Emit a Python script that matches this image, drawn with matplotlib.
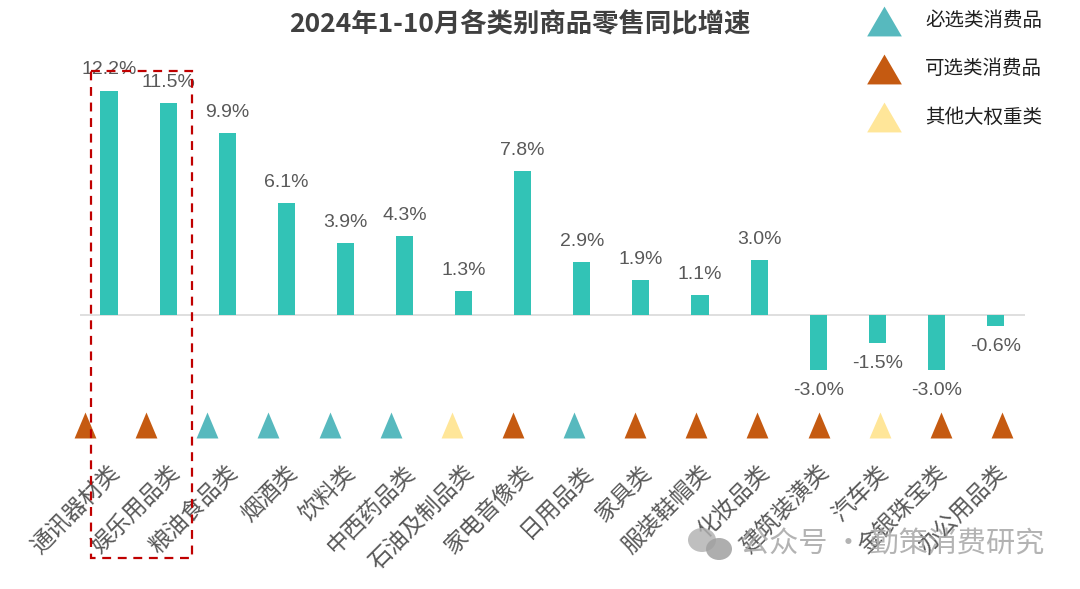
import matplotlib
matplotlib.use('Agg')
import matplotlib.pyplot as plt
from matplotlib.patches import Rectangle, Ellipse

plt.rcParams['font.family'] = ['Noto Sans CJK SC', 'DejaVu Sans']

# data
categories = ['通讯器材类', '娱乐用品类', '粮油食品类', '烟酒类', '饮料类', '中西药品类',
              '石油及制品类', '家电音像类', '日用品类', '家具类', '服装鞋帽类', '化妆品类',
              '建筑装潢类', '汽车类', '金银珠宝类', '办公用品类']
growth = [12.2, 11.5, 9.9, 6.1, 3.9, 4.3, 1.3, 7.8, 2.9, 1.9, 1.1, 3.0, -3.0, -1.5, -3.0, -0.6]
group = ['可选', '可选', '必选', '必选', '必选', '必选', '其他', '可选',
         '必选', '可选', '可选', '可选', '可选', '其他', '可选', '可选']
legend_names = ['必选类消费品', '可选类消费品', '其他大权重类']
legend_keys = ['必选', '可选', '其他']

group_colors = {'必选': '#57B9BE', '可选': '#C55A11', '其他': '#FFE699'}
bar_color = '#32C3B6'
text_gray = '#595959'

W, H = 1080, 589
fig = plt.figure(figsize=(W / 100, H / 100), dpi=100)

def px_box(x0, y0, x1, y1):
    # pixel box (top-left origin) -> figure fraction rect
    return [x0 / W, 1 - y1 / H, (x1 - x0) / W, (y1 - y0) / H]

# main bar axes
ax = fig.add_axes(px_box(79.5, 40, 1025, 400))
ax.set_xlim(-0.5, len(categories) - 0.5)
ax.set_ylim(-(400 - 315) / 18.4, (315 - 40) / 18.4)
ax.axis('off')

x = list(range(len(categories)))
ax.bar(x, growth, width=0.29, color=bar_color, zorder=2)
ax.axhline(0, color='#D9D9D9', lw=1.2, zorder=1)

for i, v in enumerate(growth):
    off = 1.12 if v >= 0 else -1.12
    ax.text(i, v + off, f'{v:.1f}%', ha='center', va='center', fontsize=14,
            color=text_gray, family=['Liberation Sans Narrow', 'Liberation Sans'])

# category labels, rotated
ylab = -(469 - 315) / 18.4
for i, c in enumerate(categories):
    ax.text(i + 0.12, ylab, c, rotation=45, rotation_mode='anchor', ha='right',
            va='center', fontsize=16.5, color=text_gray, fontweight='light')

# triangle row (its own spacing, slightly wider than the bars)
tax = fig.add_axes(px_box(85, 380, 1002, 470))
tax.set_xlim(0, len(categories) - 1)
tax.set_ylim(0, 1)
tax.axis('off')
tri = [(-0.42, -0.5), (0.42, -0.5), (0, 0.5)]
for i, g in enumerate(group):
    tax.plot(i, 0.5, marker=tri, ms=18.7, color=group_colors[g], mec='none',
             ls='none', clip_on=False)

# overlay in pixel coordinates for title, legend, box, watermark
ov = fig.add_axes([0, 0, 1, 1], zorder=5)
ov.set_xlim(0, W)
ov.set_ylim(H, 0)
ov.axis('off')

ov.text(520, 25, '2024年1-10月各类别商品零售同比增速', ha='center', va='center',
        fontsize=19, fontweight='bold', color='#404040')

leg_tri = [(-0.5, -0.43), (0.5, -0.43), (0, 0.43)]
for k, (key, name) in enumerate(zip(legend_keys, legend_names)):
    yy = 21 + k * 48
    ov.plot(884, yy, marker=leg_tri, ms=25, color=group_colors[key], mec='none', ls='none')
    ov.text(925, yy, name, ha='left', va='center', fontsize=14, color='#1F1F1F')

ov.add_patch(Rectangle((91, 71), 101, 487, fill=False, ec='#C00000', lw=1.6,
                       ls=(0, (4, 3))))

# watermark
ov.add_patch(Ellipse((702, 540), 28, 24, color='#B0B0B0', alpha=0.8, lw=0))
ov.add_patch(Ellipse((719, 549), 26, 22, color='#A0A0A0', alpha=0.85, lw=0))
ov.text(740, 545, '公众号 · 勤策消费研究', ha='left', va='center', fontsize=21,
        color='#A6A6A6', alpha=0.85)

fig.savefig('out.png', dpi=100)
